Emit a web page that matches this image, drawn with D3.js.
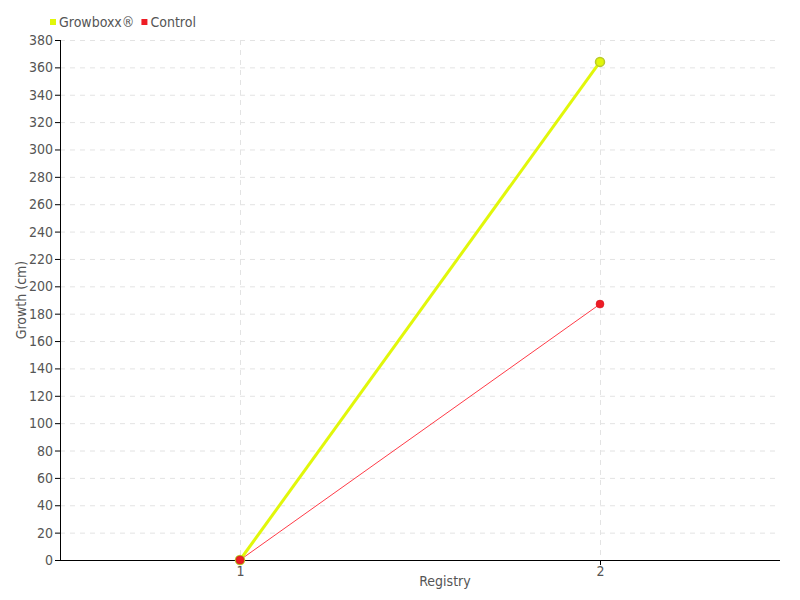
<!DOCTYPE html>
<html>
<head>
<meta charset="utf-8">
<script src="https://cdn.jsdelivr.net/npm/d3@7"></script>
<style>
  body { margin: 0; background: #fff; }
  text { font-family: "Liberation Sans Narrow", "DejaVu Sans Condensed", sans-serif; fill: #555; }
</style>
</head>
<body>
<div id="chart"></div>
<script>
// data
var registry = [1, 2];
var growboxx = [0, 364];
var control = [0, 187];
var seriesNames = ["Growboxx®", "Control"];
var seriesColors = ["#e1f70a", "#ee1c25"];

var svgWidth = 800, svgHeight = 600;
var margin = {top: 40, right: 20, bottom: 40, left: 60};
var width = svgWidth - margin.left - margin.right;
var height = svgHeight - margin.top - margin.bottom;

var svg = d3.select("#chart").append("svg")
  .attr("width", svgWidth)
  .attr("height", svgHeight);

var g = svg.append("g")
  .attr("transform", `translate(${margin.left}, ${margin.top})`);

var x = d3.scaleLinear().domain([0.5, 2.5]).range([0, width]);
var y = d3.scaleLinear().domain([0, 380]).range([height, 0]);
var yTicks = d3.range(0, 381, 20);

// grid
g.append("g").selectAll("line").data(yTicks.slice(1)).enter().append("line")
  .attr("x1", 0).attr("x2", width)
  .attr("y1", d => y(d) + 0.5).attr("y2", d => y(d) + 0.5)
  .attr("stroke", "#e3e3e3").attr("stroke-dasharray", "5,5");
g.append("g").selectAll("line").data(registry).enter().append("line")
  .attr("x1", d => x(d) + 0.5).attr("x2", d => x(d) + 0.5)
  .attr("y1", 0).attr("y2", height)
  .attr("stroke", "#e3e3e3").attr("stroke-dasharray", "5,5");

// axes
var yAxis = g.append("g")
  .call(d3.axisLeft(y).tickValues(yTicks).tickSize(5).tickPadding(2));
var xAxis = g.append("g")
  .attr("transform", `translate(0, ${height})`)
  .call(d3.axisBottom(x).tickValues(registry).tickFormat(d3.format("d")).tickSize(5).tickPadding(1));
[xAxis, yAxis].forEach(function(a) {
  a.select(".domain").attr("stroke", "#000");
  a.selectAll(".tick line").attr("stroke", "#000");
  a.selectAll(".tick text").attr("fill", "#555").style("font-size", "14px");
});
xAxis.select(".domain").attr("d", `M0,0.5H${width}`);
yAxis.select(".domain").attr("d", `M0.5,0V${height}`);

// lines
var line = d3.line().x((d, i) => x(registry[i])).y(d => y(d));
g.append("path").datum(control)
  .attr("d", line).attr("fill", "none")
  .attr("stroke", "#ff3b47").attr("stroke-width", 1);
g.append("path").datum(growboxx)
  .attr("d", line).attr("fill", "none")
  .attr("stroke", seriesColors[0]).attr("stroke-width", 3);

// points
g.selectAll(".gp").data(growboxx).enter().append("circle")
  .attr("cx", (d, i) => x(registry[i])).attr("cy", d => y(d))
  .attr("r", 4.5).attr("fill", "#e1f70a").attr("stroke", "#b9c92a").attr("stroke-width", 1.5);
g.selectAll(".cp").data(control).enter().append("circle")
  .attr("cx", (d, i) => x(registry[i])).attr("cy", d => y(d))
  .attr("r", 4).attr("fill", seriesColors[1]).attr("stroke", "#d01520").attr("stroke-width", 0.5);

// axis titles
g.append("text")
  .attr("transform", "rotate(-90)")
  .attr("x", -height / 2).attr("y", -34)
  .attr("text-anchor", "middle")
  .style("font-size", "14px")
  .text("Growth (cm)");
g.append("text")
  .attr("x", width / 2 + 25).attr("y", height + 26)
  .attr("text-anchor", "middle")
  .style("font-size", "14px")
  .text("Registry");

// legend
var legend = svg.append("g").attr("transform", "translate(50, 22)");
var lx = 0;
seriesNames.forEach(function(name, i) {
  legend.append("rect").attr("x", lx).attr("y", -3).attr("width", 6).attr("height", 6)
    .attr("fill", seriesColors[i]);
  var t = legend.append("text").attr("x", lx + 9).attr("y", 5)
    .style("font-size", "14px").text(name);
  lx += t.node().getComputedTextLength() + 16;
});
</script>
</body>
</html>
